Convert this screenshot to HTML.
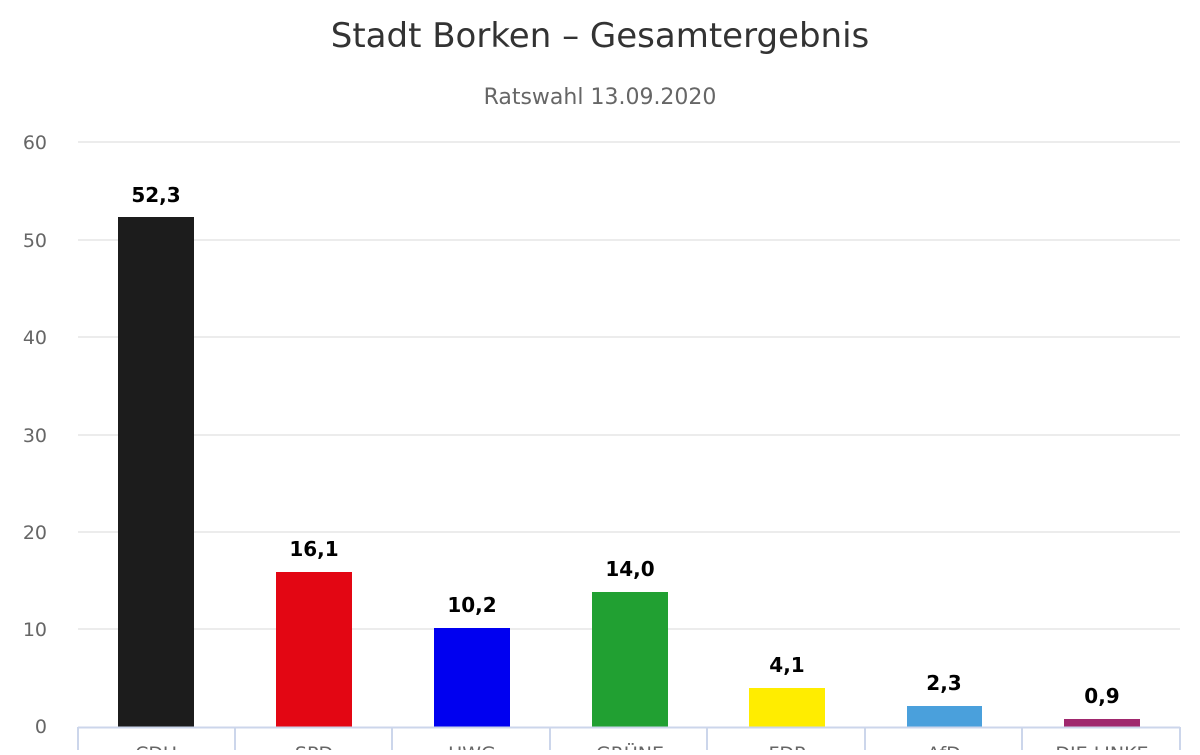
<!DOCTYPE html>
<html><head><meta charset="utf-8"><style>
body{margin:0;background:#fff;width:1200px;height:750px;overflow:hidden}
</style></head><body>
<svg width="1200" height="750" xmlns="http://www.w3.org/2000/svg" font-family="'DejaVu Sans','Liberation Sans',sans-serif">
<text x="600" y="47" text-anchor="middle" font-size="34" fill="#333">Stadt Borken – Gesamtergebnis</text>
<text x="600" y="104" text-anchor="middle" font-size="22" fill="#666">Ratswahl 13.09.2020</text>
<g stroke="#e6e6e6" stroke-width="1.5">
<line x1="78" x2="1180" y1="142" y2="142"/>
<line x1="78" x2="1180" y1="240" y2="240"/>
<line x1="78" x2="1180" y1="337" y2="337"/>
<line x1="78" x2="1180" y1="435" y2="435"/>
<line x1="78" x2="1180" y1="532" y2="532"/>
<line x1="78" x2="1180" y1="629" y2="629"/>
</g>
<g font-size="19" fill="#666" text-anchor="end">
<text x="47" y="149">60</text><text x="47" y="247">50</text><text x="47" y="344">40</text>
<text x="47" y="442">30</text><text x="47" y="539">20</text><text x="47" y="636">10</text>
<text x="47" y="733">0</text>
</g>
<rect x="118" y="217" width="76" height="510" fill="#1c1c1c"/>
<rect x="276" y="572" width="76" height="155" fill="#e30613"/>
<rect x="434" y="628" width="76" height="99" fill="#0000f0"/>
<rect x="592" y="592" width="76" height="135" fill="#21a032"/>
<rect x="749" y="688" width="76" height="39" fill="#ffed00"/>
<rect x="907" y="706" width="75" height="21" fill="#4aa0dc"/>
<rect x="1064" y="719" width="76" height="8" fill="#a0286e"/>
<g font-size="20" font-weight="bold" fill="#000" text-anchor="middle">
<text x="156" y="202">52,3</text><text x="314" y="556">16,1</text><text x="472" y="612">10,2</text>
<text x="630" y="576">14,0</text><text x="787" y="672">4,1</text><text x="944" y="690">2,3</text>
<text x="1102" y="703">0,9</text>
</g>
<line x1="78" x2="1180" y1="727.5" y2="727.5" stroke="#ccd6eb" stroke-width="2"/>
<g stroke="#ccd6eb" stroke-width="2">
<line x1="78" x2="78" y1="727" y2="750"/><line x1="235" x2="235" y1="727" y2="750"/>
<line x1="392" x2="392" y1="727" y2="750"/><line x1="550" x2="550" y1="727" y2="750"/>
<line x1="707" x2="707" y1="727" y2="750"/><line x1="865" x2="865" y1="727" y2="750"/>
<line x1="1022" x2="1022" y1="727" y2="750"/><line x1="1180" x2="1180" y1="727" y2="750"/>
</g>
<g font-size="19" fill="#666" text-anchor="middle">
<text x="156" y="760">CDU</text><text x="314" y="760">SPD</text><text x="472" y="760">UWG</text>
<text x="630" y="760">GRÜNE</text><text x="787" y="760">FDP</text><text x="944" y="760">AfD</text>
<text x="1102" y="760">DIE LINKE</text>
</g>
</svg>
</body></html>
